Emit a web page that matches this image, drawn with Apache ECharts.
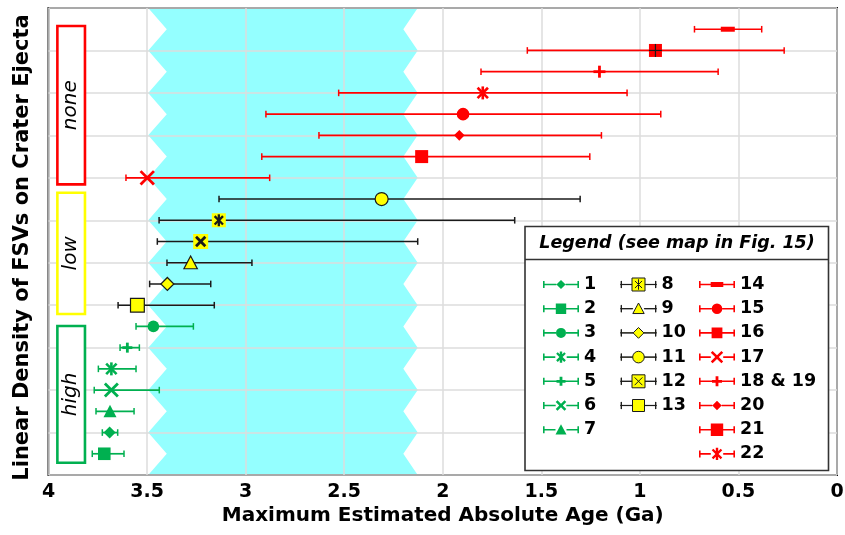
<!DOCTYPE html>
<html><head><meta charset="utf-8">
<script src="https://cdn.jsdelivr.net/npm/echarts@6/dist/echarts.min.js"></script>
<style>html,body{margin:0;padding:0;background:#fff}#c{width:845px;height:535px}</style>
</head><body><div id="c"></div>
<script>
// ---------------- data ----------------
const labels = ['1','2','3','4','5','6','7','8','9','10','11','12','13','14','15','16','17','18 & 19','20','21','22'];
const densityClass = ['high','high','high','high','high','high','high','low','low','low','low','low','low','none','none','none','none','none','none','none','none'];
const rows     = [2, 1, 7, 5, 6, 4, 3, 12, 10, 9, 13, 11, 8, 21, 17, 15, 14, 19, 16, 20, 18];
const ageBest  = [3.690,3.717,3.468,3.681,3.600,3.681,3.688,3.136,3.279,3.397,2.310,3.228,3.549,0.554,1.897,2.107,3.499,1.205,1.916,0.921,1.797];
const ageOld   = [3.727,3.778,3.556,3.747,3.637,3.768,3.759,3.439,3.399,3.487,3.135,3.448,3.647,0.723,2.897,2.918,3.607,1.806,2.628,1.571,2.528];
const ageYoung = [3.649,3.617,3.265,3.556,3.539,3.438,3.566,1.635,2.968,3.177,1.303,2.127,3.159,0.382,0.894,1.254,2.878,0.603,1.195,0.268,1.065];
const xTickLabels = ['4','3.5','3','2.5','2','1.5','1','0.5','0'];
// shaded age band (zig-zag edges)
const bandRows  = [0,1,2,3,4,5,6,7,8,9,10,11,12,13,14,15,16,17,18,19,20,21,22];
const bandOld   = [3.494,3.40,3.494,3.40,3.494,3.40,3.494,3.40,3.494,3.40,3.494,3.40,3.494,3.40,3.494,3.40,3.494,3.40,3.494,3.40,3.494,3.40,3.494];
const bandYoung = [2.127,2.20,2.127,2.20,2.127,2.20,2.127,2.20,2.127,2.20,2.127,2.20,2.127,2.20,2.127,2.20,2.127,2.20,2.127,2.20,2.127,2.20,2.127];
const groupNames = ['none','low','high'];

// ---------------- layout / style ----------------
const FONT = 'DejaVu Sans';
const GREEN = '#00B050', RED = '#FF0000', YELLOW = '#FFFF00', INK = '#1a1a1a', CYAN = '#94FFFF';
const classColor = {high: GREEN, low: YELLOW, none: RED};
const groupBox = {old: 3.955, young: 3.815, top: [21.15, 13.30, 7.02], bottom: [13.69, 7.585, 0.58]};
const markerType = ['diamond','square','circle','asterisk','plus','cross','triangle',
  'sqAsterisk','triangle','diamond','circle','sqCross','square',
  'dash','circle','square','cross','plus','diamond','sqPlus','asterisk'];
const markerR = [6,6.3,5.8,6.5,5,6.5,6.5, 7,6.7,6.5,6.5,7.5,6.9, 7,6.3,6.5,6.7,6,5.3,6.5,6.5];
const legendR = [4.6,5.2,5,5.7,4.5,5.3,5.5, 6.5,5.7,5.4,5.8,6.5,6, 6.3,5.3,5.4,6.2,5,4.7,6.2,6.2];

function markerEls(type, x, y, r, cls) {
  const yel = cls === 'low';
  const col = classColor[cls];
  const border = yel ? {stroke: INK, lineWidth: 1.2} : {};
  const L = (x1, y1, x2, y2, w, c) => ({type: 'line', shape: {x1, y1, x2, y2}, style: {stroke: c, lineWidth: w, lineCap: 'butt'}});
  const els = [];
  switch (type) {
    case 'diamond':
      els.push({type: 'polygon', shape: {points: [[x, y - r], [x + r, y], [x, y + r], [x - r, y]]}, style: Object.assign({fill: col}, border)}); break;
    case 'square':
      els.push({type: 'rect', shape: {x: x - r, y: y - r, width: 2 * r, height: 2 * r}, style: Object.assign({fill: col}, border)}); break;
    case 'circle':
      els.push({type: 'circle', shape: {cx: x, cy: y, r: r}, style: Object.assign({fill: col}, border)}); break;
    case 'triangle':
      els.push({type: 'polygon', shape: {points: [[x, y - r], [x + r, y + 0.9 * r], [x - r, y + 0.9 * r]]}, style: Object.assign({fill: col}, border)}); break;
    case 'cross':
      els.push(L(x - r, y - r, x + r, y + r, 2.8, col), L(x + r, y - r, x - r, y + r, 2.8, col)); break;
    case 'plus':
      els.push(L(x - r, y, x + r, y, 2.8, col), L(x, y - r, x, y + r, 2.8, col)); break;
    case 'asterisk': {
      const a = r * 0.8;
      els.push(L(x - a, y - a, x + a, y + a, 2.6, col), L(x + a, y - a, x - a, y + a, 2.6, col), L(x, y - r, x, y + r, 2.6, col)); break;
    }
    case 'dash':
      els.push({type: 'rect', shape: {x: x - r, y: y - 2.5, width: 2 * r, height: 5}, style: {fill: col}}); break;
    case 'sqPlus':
      els.push({type: 'rect', shape: {x: x - r, y: y - r, width: 2 * r, height: 2 * r}, style: {fill: col}},
        L(x - r, y, x + r, y, 1.2, INK), L(x, y - r, x, y + r, 1.2, INK)); break;
    case 'sqCross': {
      const a = r * 0.62;
      els.push({type: 'rect', shape: {x: x - r, y: y - r, width: 2 * r, height: 2 * r}, style: {fill: col}},
        L(x - a, y - a, x + a, y + a, 2.8, INK), L(x + a, y - a, x - a, y + a, 2.8, INK)); break;
    }
    case 'sqAsterisk': {
      const a = r * 0.6;
      els.push({type: 'rect', shape: {x: x - r, y: y - r, width: 2 * r, height: 2 * r}, style: {fill: col}},
        L(x - a, y - a, x + a, y + a, 2.3, INK), L(x + a, y - a, x - a, y + a, 2.3, INK), L(x, y - r * 0.85, x, y + r * 0.85, 2.3, INK)); break;
    }
  }
  return els;
}

// ---- legend icon paths (36 x 17 box) ----
function R(x1, y1, x2, y2) { return `M${x1},${y1}L${x2},${y1}L${x2},${y2}L${x1},${y2}Z`; }
function polyPath(pts) { return 'M' + pts.map(p => p[0].toFixed(2) + ',' + p[1].toFixed(2)).join('L') + 'Z'; }
function crossPts(cx, cy, a, k) {
  return [[-a,-a+k],[-a+k,-a],[0,-k],[a-k,-a],[a,-a+k],[k,0],[a,a-k],[a-k,a],[0,k],[-a+k,a],[-a,a-k],[-k,0]].map(p => [cx + p[0], cy + p[1]]);
}
function plusPts(cx, cy, a, h) {
  return [[-h,-a],[h,-a],[h,-h],[a,-h],[a,h],[h,h],[h,a],[-h,a],[-h,h],[-a,h],[-a,-h],[-h,-h]].map(p => [cx + p[0], cy + p[1]]);
}
function markerIconPath(type, cx, cy, r) {
  switch (type) {
    case 'diamond': return `M${cx},${cy - r}L${cx + r},${cy}L${cx},${cy + r}L${cx - r},${cy}Z`;
    case 'square': case 'sqPlus': return R(cx - r, cy - r, cx + r, cy + r);
    case 'circle': return `M${cx - r},${cy}A${r},${r},0,1,1,${cx + r},${cy}A${r},${r},0,1,1,${cx - r},${cy}Z`;
    case 'triangle': return `M${cx},${cy - r}L${cx + r},${cy + 0.85 * r}L${cx - r},${cy + 0.85 * r}Z`;
    case 'cross': return polyPath(crossPts(cx, cy, r, 1.8));
    case 'plus': return polyPath(plusPts(cx, cy, r, 1.4));
    case 'asterisk': return polyPath(crossPts(cx, cy, r * 0.85, 1.6)) + R(cx - 1.2, cy - r, cx + 1.2, cy + r);
    case 'dash': return R(cx - r, cy - 2.5, cx + r, cy + 2.5);
    case 'sqCross': { const a = r * 0.6;
      return R(cx - r, cy - r, cx + r, cy + r) + `M${cx - a},${cy - a}L${cx + a},${cy + a}M${cx + a},${cy - a}L${cx - a},${cy + a}`; }
    case 'sqAsterisk': { const a = r * 0.55;
      return R(cx - r, cy - r, cx + r, cy + r) + `M${cx - a},${cy - a}L${cx + a},${cy + a}M${cx + a},${cy - a}L${cx - a},${cy + a}M${cx},${cy - r * 0.8}L${cx},${cy + r * 0.8}`; }
  }
  return '';
}
function legendIcon(i) {
  const yel = densityClass[i] === 'low';
  const W = 36, cx = 18, cy = 8.5, r = legendR[i];
  const t = yel ? 0.1 : 0.8;
  let p = 'M0,0M36,17';
  p += R(0, cy - t, cx - r, cy + t) + R(cx + r, cy - t, W, cy + t);
  p += R(0.8 - t, cy - 3.5, 0.8 + t, cy + 3.5) + R(W - 0.8 - t, cy - 3.5, W - 0.8 + t, cy + 3.5);
  p += markerIconPath(markerType[i], cx, cy, r);
  return 'path://' + p;
}
function legendItem(i) {
  const cls = densityClass[i];
  const col = classColor[cls];
  return {
    name: labels[i],
    icon: legendIcon(i),
    itemStyle: cls === 'low' ? {color: col, borderColor: INK, borderWidth: 1} : {color: col, borderColor: col, borderWidth: 0}
  };
}
const idx = labels.map((_, i) => i);
const legendTextStyle = {fontFamily: FONT, fontWeight: 'bold', fontSize: 17.5, color: '#000'};
function legendCol(items, left) {
  return {
    data: items.map(legendItem), orient: 'vertical', left: left, top: 275.5,
    itemWidth: 36, itemHeight: 17, itemGap: 6.2, padding: 0, z: 4,
    textStyle: legendTextStyle
  };
}

// ---- series ----
const dataSeries = labels.map((lab, i) => ({
  type: 'custom', name: lab, z: 2,
  itemStyle: {color: classColor[densityClass[i]]},
  encode: {x: [0, 2, 3], y: 1},
  data: [[ageBest[i], rows[i], ageOld[i], ageYoung[i]]],
  renderItem: function (params, api) {
    const c = api.coord([api.value(0), api.value(1)]);
    const po = api.coord([api.value(2), api.value(1)]);
    const py = api.coord([api.value(3), api.value(1)]);
    const cls = densityClass[i];
    const lc = cls === 'low' ? INK : classColor[cls];
    const lw = cls === 'low' ? 1.5 : 1.7;
    const els = [
      {type: 'line', shape: {x1: po[0], y1: c[1], x2: py[0], y2: c[1]}, style: {stroke: lc, lineWidth: lw}},
      {type: 'line', shape: {x1: po[0], y1: c[1] - 3.3, x2: po[0], y2: c[1] + 3.3}, style: {stroke: lc, lineWidth: 1.5}},
      {type: 'line', shape: {x1: py[0], y1: c[1] - 3.3, x2: py[0], y2: c[1] + 3.3}, style: {stroke: lc, lineWidth: 1.5}}
    ].concat(markerEls(markerType[i], c[0], c[1], markerR[i], cls));
    return {type: 'group', children: els};
  }
}));

const bandSeries = {
  type: 'custom', name: 'band', z: -1, silent: true,
  encode: {x: [0, 2], y: 1},
  data: bandRows.map((r, i) => [bandOld[i], r, bandYoung[i]]),
  renderItem: function (params, api) {
    if (params.dataIndex !== 0) return null;
    const pts = [];
    for (let i = 0; i < bandRows.length; i++) pts.push(api.coord([bandOld[i], bandRows[i]]));
    for (let i = bandRows.length - 1; i >= 0; i--) pts.push(api.coord([bandYoung[i], bandRows[i]]));
    return {type: 'polygon', shape: {points: pts}, style: {fill: CYAN}};
  }
};

const groupSeries = {
  type: 'custom', name: 'density', z: 2, silent: true,
  encode: {x: [0, 2], y: [1, 3]},
  data: groupNames.map((n, i) => [groupBox.old, groupBox.top[i], groupBox.young, groupBox.bottom[i]]),
  renderItem: function (params, api) {
    const i = params.dataIndex;
    const p1 = api.coord([api.value(0), api.value(1)]);
    const p2 = api.coord([api.value(2), api.value(3)]);
    const col = [RED, YELLOW, GREEN][i];
    return {type: 'group', children: [
      {type: 'rect', shape: {x: p1[0], y: p1[1], width: p2[0] - p1[0], height: p2[1] - p1[1]}, style: {fill: '#fff', stroke: col, lineWidth: 2.6}},
      {type: 'text', x: (p1[0] + p2[0]) / 2, y: (p1[1] + p2[1]) / 2, rotation: Math.PI / 2,
        style: {text: groupNames[i], fontFamily: FONT, fontStyle: 'italic', fontSize: 20, fill: '#000',
          align: 'center', verticalAlign: 'middle', textAlign: 'center', textVerticalAlign: 'middle'}}
    ]};
  }
};

const chart = echarts.init(document.getElementById('c'), null, {renderer: 'canvas'});
chart.setOption({
  animation: false,
  backgroundColor: '#fff',
  grid: {left: 48.5, right: 8, top: 8, bottom: 60, show: true, borderColor: '#111', borderWidth: 2, backgroundColor: 'transparent', containLabel: false, outerBoundsMode: 'none'},
  xAxis: {
    type: 'value', min: 0, max: 4, interval: 0.5, inverse: true,
    axisLine: {show: false}, axisTick: {show: false},
    axisLabel: {margin: 8, fontFamily: FONT, fontWeight: 'bold', fontSize: 19, color: '#000',
      formatter: v => xTickLabels[Math.round((4 - v) / 0.5)]},
    splitLine: {show: true, lineStyle: {color: '#dcdcdc', width: 1.5}},
    name: 'Maximum Estimated Absolute Age (Ga)', nameLocation: 'middle', nameGap: 31, nameMoveOverlap: false,
    nameTextStyle: {fontFamily: FONT, fontWeight: 'bold', fontSize: 20, color: '#000'}
  },
  yAxis: {
    type: 'value', min: 0, max: 22, interval: 2,
    axisLine: {show: false}, axisTick: {show: false}, axisLabel: {show: false},
    splitLine: {show: true, lineStyle: {color: '#dcdcdc', width: 1.5}},
    name: 'Linear Density of FSVs on Crater Ejecta', nameLocation: 'middle', nameGap: 15, nameMoveOverlap: false,
    nameTextStyle: {fontFamily: FONT, fontWeight: 'bold', fontSize: 21, color: '#000', padding: [0, 12, 0, 0]}
  },
  legend: [
    legendCol(idx.slice(0, 7), 543),
    legendCol(idx.slice(7, 13), 620),
    legendCol(idx.slice(13), 699)
  ],
  graphic: [
    {type: 'rect', z: 3, shape: {x: 525, y: 226.5, width: 303.5, height: 244}, style: {fill: '#fff', stroke: '#333', lineWidth: 1.6}},
    {type: 'line', z: 3, shape: {x1: 525, y1: 259.5, x2: 828.5, y2: 259.5}, style: {stroke: '#333', lineWidth: 1.6}},
    {type: 'text', z: 3, x: 677, y: 243.5, style: {text: 'Legend (see map in Fig. 15)', fontFamily: FONT, fontWeight: 'bold', fontStyle: 'italic', fontSize: 17.5, fill: '#000',
      align: 'center', verticalAlign: 'middle', textAlign: 'center', textVerticalAlign: 'middle'}}
  ],
  series: [bandSeries, groupSeries].concat(dataSeries)
});
</script>
</body></html>
